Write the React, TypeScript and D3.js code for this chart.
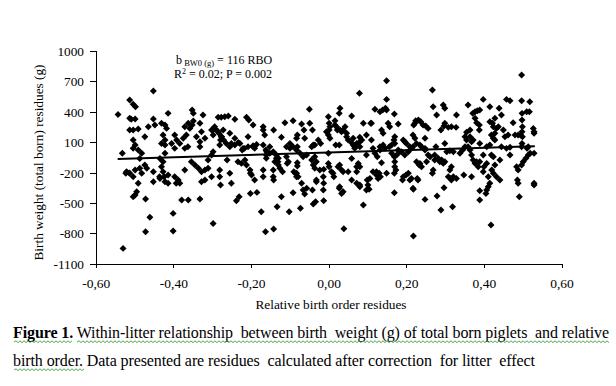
import React from "react";
import * as d3 from "d3";

// Relative birth order residue (x) vs birth weight residue in g (y)
const points: [number, number][] = [
  // left region
  [-0.453,608],[-0.514,520],[-0.505,477],[-0.499,454],[-0.544,378],[-0.514,339],[-0.5,332],[-0.453,332],[-0.415,388],
  [-0.514,224],[-0.505,224],[-0.492,234],[-0.466,257],[-0.449,273],[-0.432,290],[-0.423,273],[-0.419,240],[-0.475,158],
  [-0.428,175],[-0.423,125],[-0.423,76],[-0.432,92],[-0.398,175],[-0.393,125],[-0.385,92],[-0.376,142],[-0.368,175],
  [-0.359,240],[-0.353,273],[-0.35,388],[-0.353,421],[-0.372,257],[-0.363,290],[-0.35,313],[-0.333,290],[-0.325,372],
  [-0.329,207],[-0.32,142],[-0.342,158],[-0.333,109],[-0.333,60],[-0.406,92],[-0.398,43],[-0.505,125],[-0.5,76],
  [-0.505,43],[-0.492,27],[-0.483,-6],[-0.488,-56],[-0.533,-6],[-0.522,-187],[-0.514,-203],[-0.5,-171],[-0.488,-154],
  [-0.483,-203],[-0.505,-236],[-0.475,-121],[-0.47,-154],[-0.453,-187],[-0.492,-302],[-0.496,-384],[-0.5,-417],
  [-0.505,-434],[-0.473,-456],[-0.453,-286],[-0.436,-56],[-0.432,-138],[-0.428,-187],[-0.425,-236],[-0.423,-286],
  [-0.423,-6],[-0.428,-88],[-0.415,-220],[-0.436,-253],[-0.415,-302],[-0.398,-236],[-0.389,-269],[-0.385,-302],
  [-0.372,-171],[-0.38,-466],[-0.363,-466],[-0.333,-456],[-0.402,-598],[-0.402,-772],[-0.462,-637],[-0.473,-779],
  [-0.531,-943],[-0.355,-88],[-0.346,-121],[-0.337,-154],[-0.329,-187],[-0.32,-171],[-0.312,-154],[-0.32,-269],
  [-0.329,-286],[-0.303,-236],[-0.303,-23],[-0.299,10],[-0.303,224],[-0.299,175],[-0.299,-697],
  [-0.372,43],[-0.364,60],[-0.312,-72],[-0.524,-203],[-0.515,-200],[-0.51,330],[-0.437,-236],[-0.394,-302],
  // left-centre region
  [-0.299,224],[-0.292,230],[-0.286,349],[-0.278,349],[-0.269,355],[-0.26,362],[-0.284,191],[-0.278,158],[-0.28,125],
  [-0.272,125],[-0.265,92],[-0.282,76],[-0.256,60],[-0.282,-170],[-0.282,-236],[-0.28,-318],[-0.263,-72],[-0.256,-203],
  [-0.252,-302],[-0.243,329],[-0.243,142],[-0.235,-88],[-0.232,-434],[-0.239,-473],[-0.23,92],[-0.224,27],[-0.218,43],
  [-0.213,349],[-0.207,322],[-0.209,158],[-0.213,-121],[-0.203,-401],[-0.203,-203],[-0.196,273],[-0.196,60],[-0.192,43],
  [-0.192,-269],[-0.186,-391],[-0.17,257],[-0.17,224],[-0.166,175],[-0.17,76],[-0.175,-581],[-0.164,-779],[-0.163,27],
  [-0.162,-23],[-0.162,-55],[-0.17,-170],[-0.17,-236],[-0.153,60],[-0.143,224],[-0.144,-170],[-0.144,-236],[-0.143,-269],
  [-0.143,-752],[-0.136,-55],[-0.132,-88],[-0.134,-532],[-0.123,152],[-0.123,-434],[-0.114,296],[-0.11,60],[-0.108,-105],
  [-0.103,-581],[-0.093,316],[-0.093,-394],[-0.091,-187],[-0.087,-203],[-0.084,-236],[-0.082,175],[-0.082,60],
  [-0.295,257],[-0.286,207],[-0.273,224],[-0.277,158],[-0.256,191],[-0.252,92],[-0.243,76],[-0.234,102],[-0.222,43],
  [-0.209,60],[-0.196,69],[-0.187,82],[-0.217,-72],[-0.226,-105],[-0.204,-171],[-0.2,-220],[-0.161,10],[-0.153,-6],
  [-0.144,10],[-0.136,-23],[-0.131,-55],[-0.14,-88],[-0.131,-121],[-0.127,-154],[-0.12,-187],[-0.101,92],[-0.093,60],
  [-0.084,27],[-0.075,-6],[-0.084,-203],[-0.08,-236],[-0.058,-351],[-0.041,-121],[-0.033,-88],[-0.037,76],[-0.028,125],
  [-0.11,-39],[-0.105,-88],[-0.101,43],[-0.084,142],[-0.082,-98],[-0.082,-131],[-0.071,283],[-0.065,224],[-0.063,142],
  [-0.071,-302],[-0.067,-368],[-0.063,-407],[-0.074,-548],[-0.067,-39],[-0.058,-23],[-0.051,428],[-0.05,290],
  [-0.043,224],[-0.045,60],[-0.041,76],[-0.045,-72],[-0.037,-39],[-0.041,-506],[-0.035,-483],[-0.043,-368],[-0.033,-286],
  // centre region
  [-0.024,-170],[-0.014,-164],[-0.015,-236],[-0.014,-302],[-0.015,-368],[-0.014,-473],[-0.022,92],[-0.002,355],[0.0,290],
  [0.002,257],[0.0,224],[-0.002,175],[0.002,142],[-0.002,-6],[-0.002,-105],[0.0,-138],[0.006,-187],[0.01,-203],
  [0.012,-236],[0.015,316],[0.019,257],[0.021,224],[0.028,224],[0.036,224],[0.041,257],[0.028,438],[0.026,388],
  [0.017,76],[0.026,76],[0.023,-138],[0.032,-170],[0.036,-187],[0.026,-351],[0.032,-401],[0.038,-749],[0.045,158],
  [0.049,125],[0.058,99],[0.062,76],[0.058,362],[0.066,43],[0.058,-56],[0.078,586],[0.079,152],[0.084,125],[0.079,60],
  [0.075,-105],[0.079,-138],[0.071,-302],[0.079,-318],[0.088,290],[0.088,-516],[0.096,175],[0.096,-23],[0.098,-269],
  [0.105,-253],[0.096,-368],[0.103,-361],[0.107,290],[0.109,125],[0.118,428],[0.118,-6],[0.124,-39],[0.122,-187],
  [0.129,-203],[0.132,-236],[0.131,405],[0.138,421],[0.135,224],[0.139,191],[0.131,60],[0.139,76],[0.135,-98],
  [0.148,710],[0.148,526],[0.148,421],[0.152,290],[0.156,257],[0.155,60],[0.161,76],[0.148,-203],[0.168,382],
  [0.169,158],[0.167,125],[0.169,92],[0.168,-39],[0.169,-88],[0.169,-138],[0.172,-170],[0.168,-203],[0.168,-394],
  [0.178,283],[0.178,27],[0.182,10],[0.191,125],[0.195,109],[0.199,92],[0.191,-236],[0.198,-220],[0.204,-203],
  [0.189,-269],[0.208,-269],[0.208,60],[0.212,43],[0.217,-361],[0.217,-821],[0.218,273],[0.223,316],[0.23,322],
  [0.236,306],[0.221,142],[0.225,-88],[0.232,-121],[0.227,-253],
  [-0.007,207],[0.015,273],[0.032,207],[0.045,191],[0.062,142],[0.071,92],[0.079,109],[0.066,60],[0.109,290],
  [0.145,438],[0.113,43],[0.131,27],[0.144,43],[0.161,-6],[0.174,-23],[0.186,10],[0.195,-23],[0.204,10],[0.216,60],
  [0.225,92],[0.221,290],[0.242,273],[0.216,175],[-0.037,-154],[-0.033,-269],[0.027,-121],[0.049,-187],[0.071,-138],
  [0.071,-187],[0.058,-269],[0.079,-335],[0.1,-318],[0.113,-187],[0.122,-220],[0.126,-253],[0.212,-253],[0.216,-351],
  [0.229,-269],[0.027,-335],[0.036,-384],
  // right region
  [0.238,-138],[0.238,60],[0.247,43],[0.247,142],[0.247,-460],[0.249,263],[0.255,240],[0.255,-23],[0.26,-39],
  [0.266,618],[0.268,454],[0.268,-170],[0.266,-203],[0.272,-23],[0.281,-55],[0.29,-72],[0.275,60],[0.277,372],
  [0.278,-427],[0.285,-88],[0.294,-105],[0.298,-88],[0.288,224],[0.288,-565],[0.294,470],[0.298,438],[0.296,263],
  [0.307,250],[0.315,257],[0.327,250],[0.296,-345],[0.303,10],[0.311,20],[0.307,-236],[0.313,-253],[0.32,-236],
  [0.328,-253],[0.315,-138],[0.318,-532],[0.328,372],[0.337,-6],[0.344,27],[0.347,-220],[0.35,158],[0.354,125],
  [0.358,470],[0.363,224],[0.358,60],[0.363,27],[0.367,-23],[0.367,109],[0.37,388],[0.376,405],[0.382,414],[0.388,421],
  [0.376,339],[0.38,296],[0.387,273],[0.367,-236],[0.376,-105],[0.384,-138],[0.387,224],[0.388,-466],[0.388,-374],
  [0.397,526],[0.397,-23],[0.399,-138],[0.406,60],[0.414,76],[0.41,-236],[0.414,-302],[0.41,-335],[0.406,-368],
  [0.404,-401],[0.417,-713],[0.414,454],[0.421,290],[0.423,257],[0.427,339],[0.431,240],[0.436,257],[0.423,142],
  [0.427,125],[0.423,-39],[0.427,-121],[0.419,-170],[0.423,-203],[0.431,-236],[0.44,-269],[0.438,438],[0.444,372],
  [0.449,224],[0.453,158],[0.461,175],[0.457,526],[0.466,513],[0.457,43],[0.466,53],[0.466,-23],[0.474,296],
  [0.479,175],[0.487,175],[0.493,175],[0.483,-138],[0.487,-170],[0.485,-269],[0.487,-302],[0.49,-434],[0.496,766],
  [0.496,513],[0.497,388],[0.497,322],[0.498,257],[0.497,207],[0.498,158],[0.497,92],[0.5,-88],[0.507,-55],
  [0.513,-23],[0.518,-6],[0.509,405],[0.516,405],[0.517,503],[0.526,240],[0.528,207],[0.528,191],[0.528,-302],
  [0.528,-318],[0.528,-6],[0.51,43],[0.513,60],
  [0.298,290],[0.354,201],[0.363,158],[0.371,125],[0.414,306],[0.427,191],[0.418,175],[0.234,76],[0.247,27],
  [0.298,92],[0.32,10],[0.35,60],[0.388,92],[0.444,60],[0.496,60],[0.234,-105],[0.251,-88],[0.272,-72],[0.311,-171],
  [0.315,-269],[0.38,-88],[0.406,-105],[0.418,-23],[0.44,-72],[0.397,-187],[0.496,-121],[0.388,-88],[0.371,-72],
];

const xTicks = [-0.6, -0.4, -0.2, 0, 0.2, 0.4, 0.6];
const yTicks = [1000, 700, 400, 100, -200, -500, -800, -1100];
const regression = { slope: 116, intercept: 2, xFrom: -0.545, xTo: 0.53 };

const xTitle = "Relative birth order residues";
const yTitle = "Birth weight (total born) residues (g)";
const captionBold = "Figure 1.";
const captionLine1 = " Within-litter relationship  between birth  weight (g) of total born piglets  and relative";
const captionLine2 = "birth order. Data presented are residues  calculated after correction  for litter  effect";

const FONT = "'Liberation Serif', 'Times New Roman', serif";

function wavy(x0: number, x1: number, y: number) {
  let d = `M${x0},${y}`;
  let up = true;
  for (let x = x0 + 2; x <= x1; x += 2) {
    d += ` L${x},${up ? y - 1.2 : y + 0.6}`;
    up = !up;
  }
  return d;
}

export default function App() {
  const x = d3.scaleLinear().domain([-0.6, 0.6]).range([96.3, 562]);
  const y = d3.scaleLinear().domain([-1100, 1000]).range([264.3, 51.3]);
  const diamond = d3.symbol().type(d3.symbolDiamond2).size(31)();
  const fmtX = (v: number) => v.toFixed(2).replace(".", ",").replace("-0,00", "0,00");
  const line = d3.line<number>().x((v) => x(v)).y((v) => y(regression.intercept + regression.slope * v));

  return (
    <svg width={616} height={386} style={{ position: "absolute", left: 0, top: 0, background: "#fff" }} fontFamily={FONT}>
      <rect width={616} height={386} fill="#fff" />
      {/* axes */}
      <line x1={x(-0.6)} x2={x(0.6)} y1={y(-1100)} y2={y(-1100)} stroke="#000" strokeWidth={1} shapeRendering="crispEdges" />
      <line x1={x(-0.6)} x2={x(-0.6)} y1={y(-1100)} y2={y(1000)} stroke="#000" strokeWidth={1} shapeRendering="crispEdges" />
      {xTicks.map((t) => (
        <g key={"x" + t}>
          <line x1={x(t)} x2={x(t)} y1={y(-1100)} y2={y(-1100) + 4} stroke="#000" shapeRendering="crispEdges" />
          <text x={x(t)} y={288} textAnchor="middle" fontSize={13.5}>{fmtX(t)}</text>
        </g>
      ))}
      {yTicks.map((t) => (
        <g key={"y" + t}>
          <line x1={x(-0.6) - 6} x2={x(-0.6)} y1={y(t)} y2={y(t)} stroke="#000" shapeRendering="crispEdges" />
          <text x={84} y={y(t)} dy="0.34em" textAnchor="end" fontSize={13.3}>{t}</text>
        </g>
      ))}
      <text x={331} y={309} textAnchor="middle" fontSize={13.3}>{xTitle}</text>
      <text transform="translate(43,162.5) rotate(-90)" textAnchor="middle" fontSize={13.3}>{yTitle}</text>

      {/* points */}
      {points.map(([px, py], i) => (
        <path key={i} d={diamond} transform={`translate(${x(px)},${y(py)})`} fill="#000" />
      ))}

      {/* regression line */}
      <path d={line([regression.xFrom, regression.xTo]) || ""} stroke="#000" strokeWidth={2} fill="none" />

      {/* annotation */}
      <text x={176} y={63.5} fontSize={12}>
        b<tspan fontSize={8.5} dy={2}> BW0 (g)</tspan><tspan dy={-2}> = 116 RBO</tspan>
      </text>
      <text x={174} y={77.5} fontSize={12}>
        R<tspan fontSize={8} dy={-4}>2</tspan><tspan dy={4}> = 0.02; P = 0.002</tspan>
      </text>

      {/* caption */}
      <text x={13} y={338} fontSize={16} style={{ whiteSpace: "pre" }} textLength={596} lengthAdjust="spacing">
        <tspan fontWeight="bold">{captionBold}</tspan>
        <tspan>{captionLine1}</tspan>
      </text>
      <text x={13} y={365.5} fontSize={16} style={{ whiteSpace: "pre" }} textLength={522} lengthAdjust="spacing">
        {captionLine2}
      </text>
      <path d={wavy(14, 73, 342)} stroke="#3f9a3f" strokeWidth={0.9} fill="none" />
      <path d={wavy(77, 609, 342)} stroke="#3f9a3f" strokeWidth={0.9} fill="none" />
      <path d={wavy(14, 85, 370)} stroke="#3f9a3f" strokeWidth={0.9} fill="none" />
    </svg>
  );
}
